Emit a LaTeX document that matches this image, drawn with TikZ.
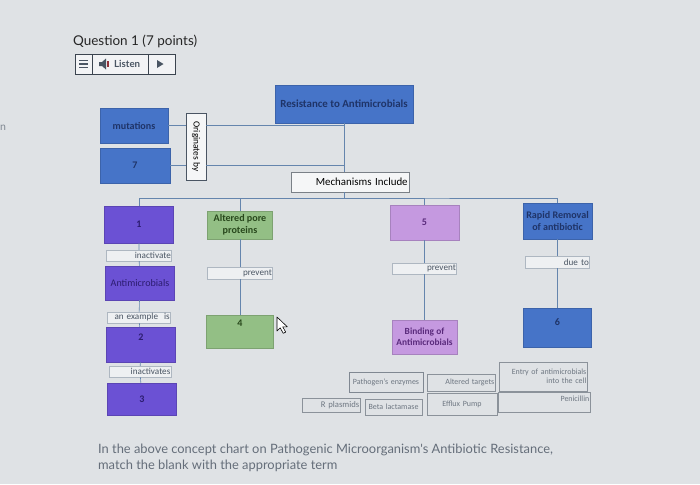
\documentclass[tikz,border=0pt]{standalone}
\usepackage{fontspec}
\setmainfont{Carlito}
\newfontfamily\lato{Lato}
\usepackage{tikz}

\definecolor{bgray}{HTML}{DFE2E5}
\definecolor{cblue}{HTML}{4674C8}
\definecolor{cpurple}{HTML}{6B51D4}
\definecolor{cgreen}{HTML}{93BF85}
\definecolor{clilac}{HTML}{C599E0}
\definecolor{cline}{HTML}{6585AD}
\definecolor{navy}{HTML}{1F3468}
\definecolor{deepviolet}{HTML}{2C1C70}
\definecolor{deepgreen}{HTML}{28481C}
\definecolor{plum}{HTML}{5A2A7C}
\definecolor{ink}{HTML}{4A5563}
\definecolor{lblline}{HTML}{AEB7C1}
\definecolor{lblfill}{HTML}{EEF0F2}

\begin{document}
\begin{tikzpicture}[x=0.3mm, y=-0.3mm,
  blk/.style={draw=#1!85!black, fill=#1, inner sep=0.5pt, align=center, font=\bfseries\fontsize{8.6}{10}\selectfont},
  bluebox/.style={blk=cblue, text=navy},
  violetbox/.style={blk=cpurple, text=deepviolet},
  greenbox/.style={blk=cgreen, text=deepgreen},
  lilacbox/.style={blk=clilac, text=plum},
  wh/.style 2 args={minimum width=#1mm, minimum height=#2mm},
  lbl/.style={draw=lblline, fill=lblfill, inner sep=0.6pt, align=right, text=ink, font=\fontsize{7.8}{8}\selectfont},
  tile/.style={draw=lblline!80!black, inner sep=0.6pt, align=right, text=ink!80, font=\fontsize{6.8}{7.6}\selectfont},
  tool/.style={draw=ink!80!black, fill=white!60!bgray, inner sep=0pt, line width=0.6pt},
  link/.style={draw=cline, line width=0.5pt}
]
\fill[bgray] (0,0) rectangle (700,484);
\useasboundingbox (0,0) rectangle (700,484);

\node[anchor=west, text=black!85, font=\lato\fontsize{11.5}{13}\selectfont] at (69,41) (qtitle) {Question 1 (7 points)};
\node[tool, wh={5.1}{6}] at (83.5,64) (menu) {};
\node[tool, wh={16.8}{6}] at (120,64) (listen) {};
\node[tool, wh={8.1}{6}] at (161.5,64) (play) {};
\draw[ink, line width=1.1pt] (79,60.5) -- (88,60.5) (79,64) -- (88,64) (79,67.5) -- (88,67.5);
\fill[ink] (99,62) rectangle (102,66) (102,62) -- (106,58.5) -- (106,69.5) -- (102,66) -- cycle;
\fill[red!40!ink] (107,61) rectangle (108.5,67);
\node[anchor=west, text=ink, font=\lato\bfseries\fontsize{8.3}{9}\selectfont] at (110,64) (listentxt) {Listen};
\fill[ink] (157,60) -- (157,68) -- (163.5,64) -- cycle;
\node[text=ink!70, font=\lato\fontsize{9}{10}\selectfont] at (3,128) (edge) {n};

\node[bluebox, wh={20.4}{10.5}] at (134,125.5) (mut) {mutations};
\node[bluebox, wh={21}{10.5}] at (135,165.5) (seven) {7};
\node[draw=ink, fill=white!70!bgray, wh={20.1}{6}, inner sep=0pt, rotate=-90, font=\fontsize{8}{9}\selectfont] at (196,146.5) (orig) {Originates by};
\node[bluebox, wh={41.4}{11.4}, font=\bfseries\fontsize{9.3}{11}\selectfont] at (344,104) (res) {Resistance to Antimicrobials};
\node[draw=lblline!70!black, fill=white!70!bgray, minimum height=6mm, text width=34.6mm, inner sep=1pt, align=right, font=\fontsize{9.3}{10}\selectfont] at (350,182) (mech) {Mechanisms Include};
\coordinate (bus) at (344,198);

\node[violetbox, wh={20.7}{11.1}] at (139,224.5) (one) {1};
\node[lbl, text width=19.1mm, minimum height=3.3mm] at (139,255.5) (inact) {inactivate};
\node[violetbox, wh={20.7}{10.2}, font=\fontsize{8.6}{10}\selectfont] at (140,283) (anti) {Antimicrobials};
\node[lbl, text width=18.5mm, minimum height=3.3mm] at (139,317.5) (exam) {an example \ is};
\node[violetbox, wh={20.7}{10.5}, text depth=4.5mm] at (141,344.5) (two) {2};
\node[lbl, text width=18.2mm, minimum height=3.3mm] at (140,371.5) (inacts) {inactivates};
\node[violetbox, wh={20.7}{9.6}] at (142,399) (three) {3};

\node[greenbox, wh={19.5}{8.4}] at (240,225) (alt) {Altered pore\\proteins};
\node[lbl, text width=19.1mm, minimum height=3.6mm] at (240,273) (prev1) {prevent};
\node[greenbox, wh={20.1}{9.9}, text depth=5mm] at (240,331.5) (four) {4};
\draw[fill=white, line join=round, line width=0.5pt] (277,317) -- ++(0,14) -- ++(3.2,-3.2) -- ++(3,5.5) -- ++(2.5,-1.2) -- ++(-3,-5.3) -- ++(4.6,0) -- cycle;

\node[lilacbox, wh={20.7}{10.5}] at (424.5,222.5) (five) {5};
\node[lbl, text width=18.8mm, minimum height=3.3mm] at (424.5,268.5) (prev2) {prevent};
\node[lilacbox, wh={19.5}{10.2}, font=\bfseries\fontsize{8}{9.5}\selectfont] at (424.5,337) (bind) {Binding of\\Antimicrobials};

\node[bluebox, wh={20.7}{10.8}] at (557.5,221) (rapid) {Rapid Removal\\of antibiotic};
\node[lbl, text width=18.8mm, minimum height=3.6mm] at (557.5,262) (due) {due to};
\node[bluebox, wh={20.4}{11.7}, text depth=3.3mm] at (557.5,327.5) (six) {6};

\node[tile, draw=ink!70, text width=21.8mm, minimum height=6mm, align=center] at (386,382) (enz) {Pathogen's enzymes};
\node[tile, text width=20mm, minimum height=5.1mm] at (461,382.5) (targ) {Altered targets};
\node[tile, text width=26mm, minimum height=8.7mm] at (543,376.5) (entry) {Entry of antimicrobials\\into the cell};
\node[tile, text width=17mm, minimum height=4.2mm, font=\fontsize{7.4}{8}\selectfont] at (331,405) (plas) {R plasmids};
\node[tile, text width=16.7mm, minimum height=4.8mm, align=center] at (393.5,407) (beta) {Beta lactamase};
\node[tile, text width=20.6mm, minimum height=6.6mm, align=center] at (462,404) (efflux) {Efflux Pump};
\node[tile, text width=27.2mm, minimum height=6mm, text depth=2mm] at (544,402) (pen) {Penicillin};

\node[anchor=west, align=left, text=ink!85, font=\lato\fontsize{11}{13.6}\selectfont] at (94,458) (task) {In the above concept chart on Pathogenic Microorganism's Antibiotic Resistance,\\match the blank with the appropriate term};

\draw[link] (mut.east) -- (mut.east -| orig.south);
\draw[link] (seven.east) -- (seven.east -| orig.south);
\draw[link] (orig.north |- mut.east) -- (res.south |- mut.east);
\draw[link] (orig.north |- seven.east) -- (res.south |- seven.east);
\draw[link] (res.south) -- (res.south |- mech.north);
\draw[link] (res.south |- mech.south) -- (bus);
\draw[link] (one.north) |- (bus) -| (rapid.north);
\draw[link] (alt.north) |- (bus);
\draw[link] (five.north) |- (bus);
\draw[link] (one) -- (inact) -- (anti) -- (exam) -- (two) -- (inacts) -- (three);
\draw[link] (alt) -- (prev1) -- (four);
\draw[link] (five) -- (prev2) -- (bind);
\draw[link] (rapid) -- (due) -- (six);
\end{tikzpicture}
\end{document}
